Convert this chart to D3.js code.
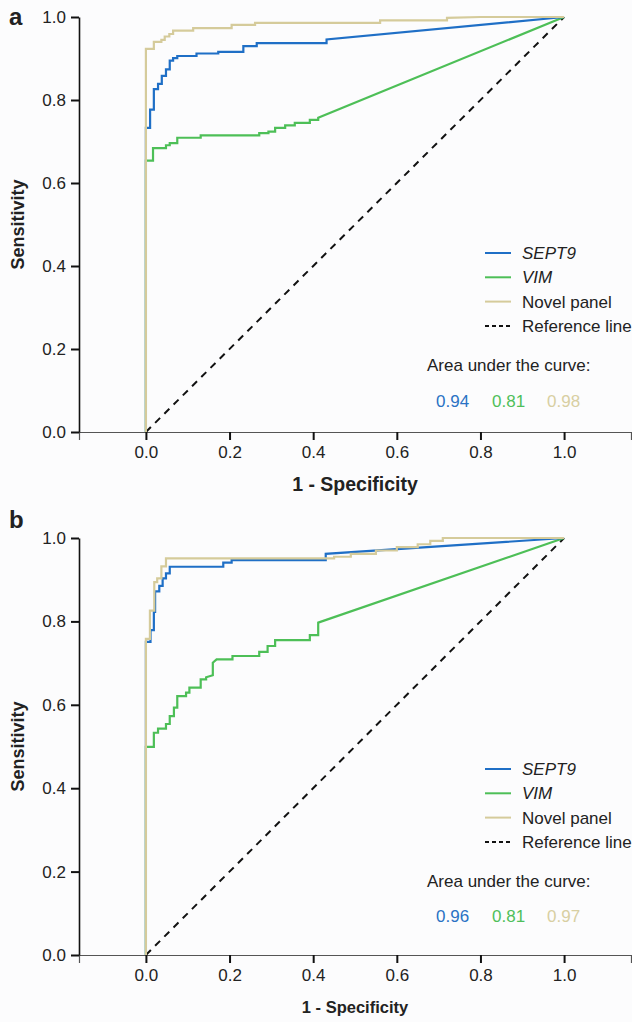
<!DOCTYPE html>
<html>
<head>
<meta charset="utf-8">
<script src="https://cdn.jsdelivr.net/npm/d3@7"></script>
<style>
  body { margin: 0; background: #fcfcfd; }
  svg { display: block; font-family: "Liberation Sans", Arial, sans-serif; }
  .axis text { font-size: 17px; fill: #222; }
</style>
</head>
<body>
<div id="chart"></div>
<script>
// ROC curve vertices (1 - specificity, sensitivity)

// panel a
let aSeptFpr = [0, 0, 0.010, 0.010, 0.019, 0.019, 0.029, 0.029, 0.038, 0.038, 0.048, 0.048, 0.057, 0.057, 0.065, 0.065, 0.075, 0.075, 0.121, 0.121, 0.173, 0.173, 0.233, 0.233, 0.265, 0.265, 0.432, 0.432, 1];
let aSeptTpr = [0, 0.733, 0.733, 0.777, 0.777, 0.826, 0.826, 0.839, 0.839, 0.858, 0.858, 0.874, 0.874, 0.895, 0.895, 0.901, 0.901, 0.906, 0.906, 0.912, 0.912, 0.916, 0.916, 0.930, 0.930, 0.937, 0.937, 0.946, 1];

let aVimFpr = [0, 0, 0.017, 0.017, 0.048, 0.048, 0.057, 0.057, 0.075, 0.075, 0.131, 0.131, 0.271, 0.271, 0.293, 0.293, 0.309, 0.309, 0.333, 0.333, 0.356, 0.356, 0.392, 0.392, 0.412, 0.412, 1];
let aVimTpr = [0, 0.654, 0.654, 0.684, 0.684, 0.691, 0.691, 0.696, 0.696, 0.709, 0.709, 0.715, 0.715, 0.720, 0.720, 0.724, 0.724, 0.733, 0.733, 0.739, 0.739, 0.745, 0.745, 0.752, 0.752, 0.757, 1];

let aNovelFpr = [0, 0, 0.019, 0.019, 0.037, 0.037, 0.045, 0.045, 0.056, 0.056, 0.065, 0.065, 0.113, 0.113, 0.205, 0.205, 0.261, 0.261, 0.56, 0.56, 0.72, 0.72, 0.80, 1];
let aNovelTpr = [0, 0.923, 0.923, 0.940, 0.940, 0.945, 0.945, 0.953, 0.953, 0.959, 0.959, 0.967, 0.967, 0.973, 0.973, 0.981, 0.981, 0.986, 0.986, 0.992, 0.992, 0.998, 1, 1];

// panel b
let bSeptFpr = [0, 0, 0.011, 0.011, 0.019, 0.019, 0.022, 0.022, 0.032, 0.032, 0.040, 0.040, 0.048, 0.048, 0.057, 0.057, 0.185, 0.185, 0.205, 0.205, 0.43, 0.43, 1];
let bSeptTpr = [0, 0.751, 0.751, 0.779, 0.779, 0.823, 0.823, 0.872, 0.872, 0.885, 0.885, 0.903, 0.903, 0.915, 0.915, 0.931, 0.931, 0.941, 0.941, 0.947, 0.947, 0.962, 1];

let bVimFpr = [0, 0, 0.019, 0.019, 0.029, 0.029, 0.048, 0.048, 0.057, 0.057, 0.067, 0.067, 0.075, 0.075, 0.096, 0.096, 0.104, 0.104, 0.131, 0.131, 0.144, 0.144, 0.160, 0.160, 0.169, 0.207, 0.207, 0.271, 0.271, 0.291, 0.291, 0.309, 0.309, 0.392, 0.392, 0.412, 0.412, 1];
let bVimTpr = [0, 0.499, 0.499, 0.533, 0.533, 0.543, 0.543, 0.554, 0.554, 0.573, 0.573, 0.593, 0.593, 0.621, 0.621, 0.629, 0.629, 0.641, 0.641, 0.661, 0.661, 0.666, 0.671, 0.701, 0.709, 0.709, 0.717, 0.717, 0.727, 0.727, 0.741, 0.741, 0.755, 0.755, 0.767, 0.767, 0.797, 1];

let bNovelFpr = [0, 0, 0.0096, 0.0096, 0.020, 0.020, 0.027, 0.027, 0.037, 0.037, 0.048, 0.048, 0.45, 0.45, 0.49, 0.49, 0.55, 0.55, 0.60, 0.60, 0.65, 0.65, 0.68, 0.68, 0.71, 0.71, 1];
let bNovelTpr = [0, 0.758, 0.758, 0.826, 0.826, 0.894, 0.894, 0.903, 0.903, 0.932, 0.932, 0.951, 0.951, 0.955, 0.955, 0.962, 0.962, 0.970, 0.970, 0.978, 0.978, 0.985, 0.985, 0.993, 0.993, 1, 1];

let seriesNames = ["SEPT9", "VIM", "Novel panel"];
let aAuc = ["0.94", "0.81", "0.98"];
let bAuc = ["0.96", "0.81", "0.97"];
let tickValues = [0, 0.2, 0.4, 0.6, 0.8, 1.0];

let colors = ["#1f6fc6", "#4dbf57", "#d5cb9b"];
let aucColors = ["#2a72c4", "#4fbf5a", "#d8cfa2"];

let width = 632, height = 1022;
let svg = d3.select('#chart').append('svg')
  .attr('width', width)
  .attr('height', height);

let x = d3.scaleLinear().domain([-0.16, 1.16]).range([79, 631]);

function zip(fx, ty) {
  return fx.map(function (d, i) { return [d, ty[i]]; });
}

function drawPanel(p) {
  let y = d3.scaleLinear().domain([0, 1]).range([p.bottom, p.top]);
  let g = svg.append('g');

  // axes
  let xAxis = g.append('g').attr('class', 'axis')
    .attr('transform', 'translate(0,' + p.bottom + ')')
    .call(d3.axisBottom(x).tickValues(tickValues).tickFormat(d3.format('.1f')).tickSize(8).tickPadding(6));
  xAxis.select('.domain').attr('stroke', '#555').attr('stroke-width', 1.2);
  xAxis.selectAll('.tick line').attr('stroke', '#111').attr('stroke-width', 2);

  let yAxis = g.append('g').attr('class', 'axis')
    .attr('transform', 'translate(79,0)')
    .call(d3.axisLeft(y).tickValues(tickValues).tickFormat(d3.format('.1f')).tickSize(8).tickPadding(5).tickSizeOuter(0));
  yAxis.select('.domain').attr('stroke', '#111').attr('stroke-width', 1.6);
  yAxis.selectAll('.tick line').attr('stroke', '#111').attr('stroke-width', 2);

  // reference line
  g.append('line')
    .attr('x1', x(0)).attr('y1', y(0))
    .attr('x2', x(1)).attr('y2', y(1))
    .attr('stroke', '#111').attr('stroke-width', 2)
    .attr('stroke-dasharray', '7,6');

  let line = d3.line()
    .x(function (d) { return x(d[0]); })
    .y(function (d) { return y(d[1]); });

  // draw order: VIM, SEPT9, Novel panel on top
  [1, 0, 2].forEach(function (k) {
    g.append('path')
      .datum(p.curves[k])
      .attr('fill', 'none')
      .attr('stroke', colors[k])
      .attr('stroke-width', 2.2)
      .attr('stroke-linejoin', 'miter')
      .attr('d', line);
  });

  // panel letter
  g.append('text')
    .attr('x', 9).attr('y', p.letterY)
    .attr('font-size', 24).attr('font-weight', 'bold').attr('fill', '#222')
    .text(p.letter);

  // axis titles
  g.append('text')
    .attr('transform', 'translate(24,' + ((p.top + p.bottom) / 2) + ') rotate(-90)')
    .attr('text-anchor', 'middle')
    .attr('font-size', 18).attr('font-weight', 'bold').attr('fill', '#222')
    .text('Sensitivity');

  g.append('text')
    .attr('x', 355).attr('y', p.xLabelY)
    .attr('text-anchor', 'middle')
    .attr('font-size', p.xLabelSize).attr('font-weight', 'bold').attr('fill', '#222')
    .text('1 - Specificity');

  // legend
  let rows = seriesNames.concat(['Reference line']);
  rows.forEach(function (name, i) {
    let ly = p.legendY + i * 24.3;
    g.append('line')
      .attr('x1', 485).attr('x2', 511)
      .attr('y1', ly).attr('y2', ly)
      .attr('stroke', i < 3 ? colors[i] : '#111')
      .attr('stroke-width', 2)
      .attr('stroke-dasharray', i < 3 ? null : '4,3');
    g.append('text')
      .attr('x', 522).attr('y', ly + 6)
      .attr('font-size', 17).attr('fill', '#222')
      .attr('font-style', i < 2 ? 'italic' : 'normal')
      .text(name);
  });

  g.append('text')
    .attr('x', 427).attr('y', p.areaY + 6)
    .attr('font-size', 17).attr('fill', '#222')
    .text('Area under the curve:');

  [436, 492, 547].forEach(function (ax, i) {
    g.append('text')
      .attr('x', ax).attr('y', p.aucY + 6)
      .attr('font-size', 17).attr('fill', aucColors[i])
      .text(p.auc[i]);
  });
}

drawPanel({
  letter: 'a', letterY: 25, top: 17, bottom: 432,
  xLabelY: 491, xLabelSize: 19.5,
  legendY: 253, areaY: 365, aucY: 401, auc: aAuc,
  curves: [zip(aSeptFpr, aSeptTpr), zip(aVimFpr, aVimTpr), zip(aNovelFpr, aNovelTpr)]
});

drawPanel({
  letter: 'b', letterY: 528, top: 538, bottom: 955,
  xLabelY: 1013, xLabelSize: 16.5,
  legendY: 769, areaY: 881, aucY: 916, auc: bAuc,
  curves: [zip(bSeptFpr, bSeptTpr), zip(bVimFpr, bVimTpr), zip(bNovelFpr, bNovelTpr)]
});
</script>
</body>
</html>
